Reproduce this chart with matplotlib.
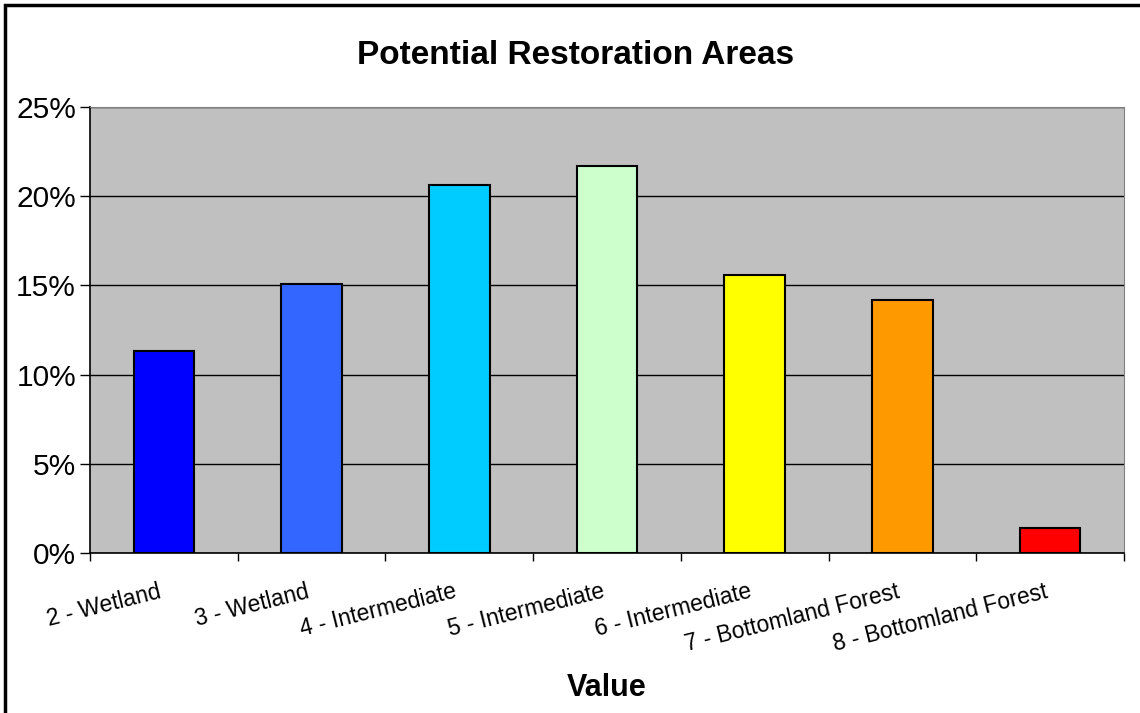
import numpy as np
import matplotlib.pyplot as plt
from matplotlib.patches import Rectangle

categories = ["2 - Wetland", "3 - Wetland", "4 - Intermediate", "5 - Intermediate",
              "6 - Intermediate", "7 - Bottomland Forest", "8 - Bottomland Forest"]
shares = [11.3, 15.1, 20.6, 21.7, 15.6, 14.2, 1.4]
colors = ["#0000FF", "#3366FF", "#00CCFF", "#CCFFCC", "#FFFF00", "#FF9900", "#FF0000"]
yticks = [0, 5, 10, 15, 20, 25]

plt.rcParams['font.family'] = ['Liberation Sans', 'DejaVu Sans']

fig = plt.figure(figsize=(11.4, 7.13), dpi=100)
ax = fig.add_axes([90 / 1140, 1 - 553 / 713, (1124 - 90) / 1140, (553 - 107) / 713])

# outer chart frame
fig.patches.append(Rectangle((5 / 1140, -0.1), 1.2, 1 - 5 / 713 + 0.1,
                             transform=fig.transFigure, fill=False,
                             edgecolor="black", linewidth=2.5))

x = np.arange(len(categories))
ax.set_facecolor("#C0C0C0")
ax.bar(x, shares, width=0.41, color=colors, edgecolor="black", linewidth=1.5, zorder=3)

ax.set_xlim(-0.5, len(categories) - 0.5)
ax.set_ylim(0, 25)
ax.set_yticks(yticks)
ax.set_yticklabels([f"{v}%" for v in yticks], fontsize=21.5)
ax.yaxis.grid(True, color="black", linewidth=1, zorder=1)
ax.tick_params(axis="y", direction="out", length=7, width=1, pad=3)

ax.set_xticks(np.arange(len(categories) + 1) - 0.5)
ax.set_xticklabels([])
ax.tick_params(axis="x", direction="out", length=6, width=1)
for xi, lab in zip(x, categories):
    ax.annotate(lab, xy=(xi, 0), xytext=(-6, -27), textcoords="offset pixels",
                rotation=14, ha="right", va="top", rotation_mode="anchor",
                fontsize=16.5)

for side in ["top", "right"]:
    ax.spines[side].set_color("#808080")
for side in ["left", "bottom"]:
    ax.spines[side].set_color("black")
    ax.spines[side].set_linewidth(1.2)

fig.text(576 / 1140, 1 - 55 / 713, "Potential Restoration Areas", ha="center", va="center",
         fontsize=24, fontweight="bold")
fig.text(607 / 1140, 1 - 688 / 713, "Value", ha="center", va="center",
         fontsize=22, fontweight="bold")

fig.savefig("out.png", dpi=100)
